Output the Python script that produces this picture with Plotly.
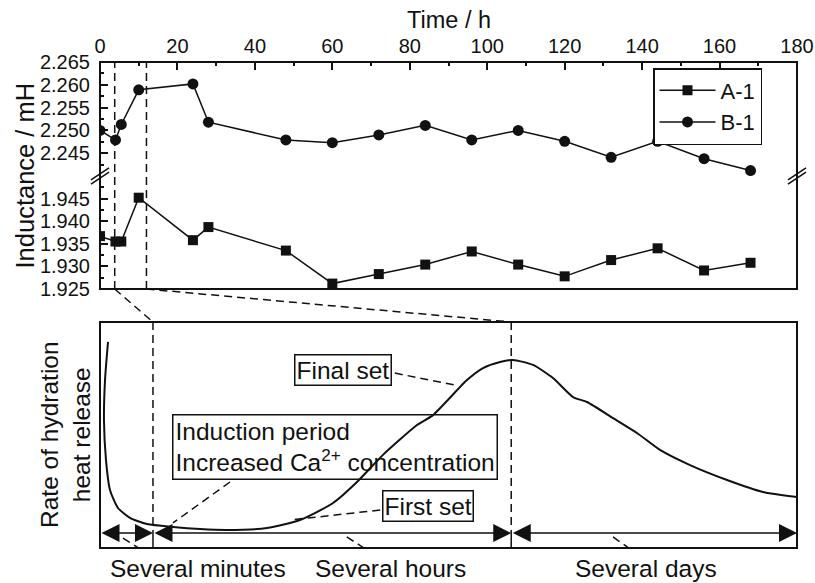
import plotly.graph_objects as go

# ---------------- data ----------------
time_h = [0, 4, 5.5, 10, 24, 28, 48, 60, 72, 84, 96, 108, 120, 132, 144, 156, 168]
inductance_a1 = [1.9367, 1.9355, 1.9355, 1.9452, 1.9358, 1.9387, 1.9335, 1.9262, 1.9283,
                 1.9304, 1.9333, 1.9304, 1.9278, 1.9314, 1.9340, 1.9291, 1.9308]
inductance_b1 = [2.2500, 2.2479, 2.2513, 2.2589, 2.2602, 2.2518, 2.2479, 2.2473, 2.2490,
                 2.2511, 2.2479, 2.2500, 2.2476, 2.2441, 2.2476, 2.2438, 2.2412]
series_names = ["A-1", "B-1"]

time_ticks = [0, 20, 40, 60, 80, 100, 120, 140, 160, 180]
upper_ticks = [2.245, 2.250, 2.255, 2.260, 2.265]
upper_minor = [2.2425, 2.2475, 2.2525, 2.2575, 2.2625]
lower_ticks = [1.925, 1.930, 1.935, 1.940, 1.945]
lower_minor = [1.9275, 1.9325, 1.9375, 1.9425, 1.9475]
time_range = [0, 180]
upper_range = [2.240, 2.265]
lower_range = [1.925, 1.950]
marked_hours = [3.8, 12.0]

# schematic heat-release curve (stage position 0-100, relative rate 0-100)
stage_pos = [1.15, 0.72, 0.57, 0.86, 1.43, 2.58, 4.30, 6.74, 10.47, 14.35, 18.22, 23.96,
             28.69, 33.43, 36.87, 40.60, 45.48, 47.78, 52.65, 54.95, 57.39, 59.25, 62.12,
             64.99, 67.86, 69.87, 73.60, 77.04, 80.34, 84.65, 89.96, 95.12, 100.0]
heat_rate = [91.2, 74.3, 56.6, 38.9, 25.7, 17.7, 13.3, 10.6, 9.3, 8.4, 8.0, 8.8,
             12.4, 19.9, 29.2, 41.2, 54.4, 58.8, 74.3, 79.6, 82.3, 83.2, 81.0,
             75.2, 66.8, 64.6, 57.5, 50.9, 43.4, 36.7, 30.1, 24.8, 22.6]
stage_bounds = [0, 7.6, 59.0, 100]
stage_labels = ["Several minutes", "Several hours", "Several days"]
stage_label_pos = [14.1, 41.75, 78.3]
arrow_level = 6.6

# ---------------- layout geometry ----------------
W, H = 815, 583
def px(x): return x / W
def py(y): return 1 - y / H

XD = [px(100), px(797)]
UP = [py(176), py(62)]
LO = [py(289), py(176)]
BT = [py(548), py(322)]

def tx(t):
    return XD[0] + (t - time_range[0]) / (time_range[1] - time_range[0]) * (XD[1] - XD[0])
def ux(u):
    return XD[0] + u / 100 * (XD[1] - XD[0])

FONT = "Liberation Sans, Arial, Helvetica, sans-serif"
BLACK = "#111111"
DASH = "8px,5px"
TXT = 24.5

fig = go.Figure()
fig.add_trace(go.Scatter(x=time_h, y=inductance_a1, name=series_names[0], xaxis="x", yaxis="y2",
                         mode="lines+markers", line=dict(color=BLACK, width=1.5),
                         marker=dict(symbol="square", size=10, color=BLACK)))
fig.add_trace(go.Scatter(x=time_h, y=inductance_b1, name=series_names[1], xaxis="x", yaxis="y",
                         mode="lines+markers", line=dict(color=BLACK, width=1.5),
                         marker=dict(symbol="circle", size=11, color=BLACK)))
fig.add_trace(go.Scatter(x=stage_pos, y=heat_rate, xaxis="x2", yaxis="y3", mode="lines",
                         line=dict(color=BLACK, width=2, shape="spline", smoothing=0.6),
                         showlegend=False, hoverinfo="skip"))

yax_common = dict(showline=False, showgrid=False, zeroline=False, ticks="inside", ticklen=8,
                  tickwidth=1.5, tickcolor=BLACK, tickfont=dict(size=20, color=BLACK),
                  ticklabelstandoff=9, tickmode="array", automargin=False)

fig.update_layout(
    width=W, height=H, margin=dict(l=0, r=0, t=0, b=0, pad=0, autoexpand=False),
    paper_bgcolor="white", plot_bgcolor="white",
    font=dict(family=FONT, color=BLACK),
    xaxis=dict(domain=XD, range=time_range, anchor="y", side="top", showline=False,
               showgrid=False, zeroline=False, ticks="inside", ticklen=8, tickwidth=1.5,
               tickcolor=BLACK, tickmode="array", tickvals=time_ticks, automargin=False,
               ticktext=[str(t) for t in time_ticks], tickfont=dict(size=20, color=BLACK),
               ticklabelstandoff=4,
               minor=dict(ticks="inside", ticklen=4, tickwidth=1.5, tickcolor=BLACK, dtick=10,
                          tick0=0, showgrid=False)),
    yaxis=dict(domain=UP, range=upper_range, anchor="x", tickvals=upper_ticks,
               ticktext=[f"{v:.3f}" for v in upper_ticks],
               minor=dict(ticks="inside", ticklen=4, tickwidth=1.5, tickcolor=BLACK,
                          tickvals=upper_minor, showgrid=False), **yax_common),
    yaxis2=dict(domain=LO, range=lower_range, anchor="x", tickvals=lower_ticks,
                ticktext=[f"{v:.3f}" for v in lower_ticks],
                minor=dict(ticks="inside", ticklen=4, tickwidth=1.5, tickcolor=BLACK,
                           tickvals=lower_minor, showgrid=False), **yax_common),
    xaxis2=dict(domain=XD, range=[0, 100], anchor="y3", visible=False, automargin=False),
    yaxis3=dict(domain=BT, range=[0, 100], anchor="x2", visible=False, automargin=False),
    legend=dict(x=px(653), y=py(68), xanchor="left", yanchor="top",
                bordercolor=BLACK, borderwidth=1.5, bgcolor="white",
                font=dict(size=22, color=BLACK), tracegroupgap=0, itemwidth=56),
    showlegend=True,
)

shapes = []
# frames
shapes.append(dict(type="rect", xref="paper", yref="paper", x0=XD[0], x1=XD[1], y0=LO[0], y1=UP[1],
                   line=dict(color=BLACK, width=2)))
shapes.append(dict(type="rect", xref="paper", yref="paper", x0=XD[0], x1=XD[1], y0=BT[0], y1=BT[1],
                   line=dict(color=BLACK, width=2)))
# axis break marks
for xc in [XD[0], XD[1]]:
    for off in [-2.2, 2.2]:
        shapes.append(dict(type="line", xref="paper", yref="paper",
                           x0=xc - px(9), y0=LO[1] + (off - 6) / H,
                           x1=xc + px(9), y1=LO[1] + (off + 6) / H,
                           line=dict(color=BLACK, width=1.5)))
# dashed verticals in the upper panel
for t in marked_hours:
    shapes.append(dict(type="line", xref="paper", yref="paper", x0=tx(t), x1=tx(t),
                       y0=LO[0], y1=UP[1], line=dict(color=BLACK, width=1.5, dash=DASH)))
# connectors to the lower panel
targets = [stage_bounds[1], stage_bounds[2]]
for t, u in zip(marked_hours, targets):
    shapes.append(dict(type="line", xref="paper", yref="paper", x0=tx(t), y0=LO[0],
                       x1=ux(u), y1=BT[1], line=dict(color=BLACK, width=1.5, dash=DASH)))
# dashed verticals in the lower panel
for u in targets:
    shapes.append(dict(type="line", xref="x2", yref="y3", x0=u, x1=u, y0=100, y1=arrow_level,
                       line=dict(color=BLACK, width=1.5, dash=DASH)))
    shapes.append(dict(type="line", xref="x2", yref="y3", x0=u, x1=u, y0=arrow_level, y1=0,
                       line=dict(color=BLACK, width=1.5)))
# leader lines (stage position, rate)
leaders = [
    ((42.3, 77.4), (50.9, 72.1)),   # Final set
    ((18.65, 29.2), (10.47, 11.1)), # Induction period
    ((40.2, 16.8), (27.3, 12.4)),   # First set
    ((3.3, 4.4), (7.6, -4.0)),      # Several minutes
    ((35.4, 4.9), (39.9, -4.0)),    # Several hours
    ((73.6, 4.9), (77.9, -4.4)),    # Several days
]
for (u0, v0), (u1, v1) in leaders:
    shapes.append(dict(type="line", xref="x2", yref="y3", x0=u0, y0=v0, x1=u1, y1=v1,
                       line=dict(color=BLACK, width=1.5, dash=DASH)))
fig.update_layout(shapes=shapes)

ann = []
# titles
ann.append(dict(text="Time / h", xref="paper", yref="paper", x=(XD[0] + XD[1]) / 2, y=py(20),
                xanchor="center", yanchor="middle", showarrow=False,
                font=dict(size=23.5, color=BLACK)))
ann.append(dict(text="Inductance / mH", xref="paper", yref="paper", x=px(25), y=(LO[0] + UP[1]) / 2,
                xanchor="center", yanchor="middle", textangle=-90, showarrow=False,
                font=dict(size=25.5, color=BLACK)))
ann.append(dict(text="Rate of hydration<br>heat release", xref="paper", yref="paper", x=px(65),
                y=(BT[0] + BT[1]) / 2, xanchor="center", yanchor="middle", textangle=-90,
                showarrow=False, font=dict(size=TXT, color=BLACK)))
# boxed notes
box_common = dict(xref="x2", yref="y3", showarrow=False, xanchor="center", yanchor="middle",
                  bordercolor=BLACK, borderwidth=1.5,
                  font=dict(size=TXT, color=BLACK))
ann.append(dict(text="Final set", x=34.86, y=78.8, borderpad=1, bgcolor="white", **box_common))
ann.append(dict(text="Induction period<br>Increased Ca<sup>2+</sup> concentration", x=33.7, y=44.5,
                align="left", borderpad=2, **box_common))
ann.append(dict(text="First set", x=47.06, y=18.6, borderpad=1, bgcolor="white", **box_common))
# double-headed arrows for the stages
for i in range(3):
    ann.append(dict(text="", xref="x2", yref="y3", axref="x2", ayref="y3",
                    x=stage_bounds[i + 1], y=arrow_level, ax=stage_bounds[i], ay=arrow_level,
                    showarrow=True, arrowside="end+start", arrowhead=2, arrowsize=2.4,
                    arrowwidth=1.5, arrowcolor=BLACK, standoff=0, startstandoff=0))
for lab, u in zip(stage_labels, stage_label_pos):
    ann.append(dict(text=lab, xref="paper", yref="paper", x=ux(u), y=py(568),
                    xanchor="center", yanchor="middle", showarrow=False,
                    font=dict(size=TXT, color=BLACK)))
fig.update_layout(annotations=ann)

fig.write_html("out.html")
